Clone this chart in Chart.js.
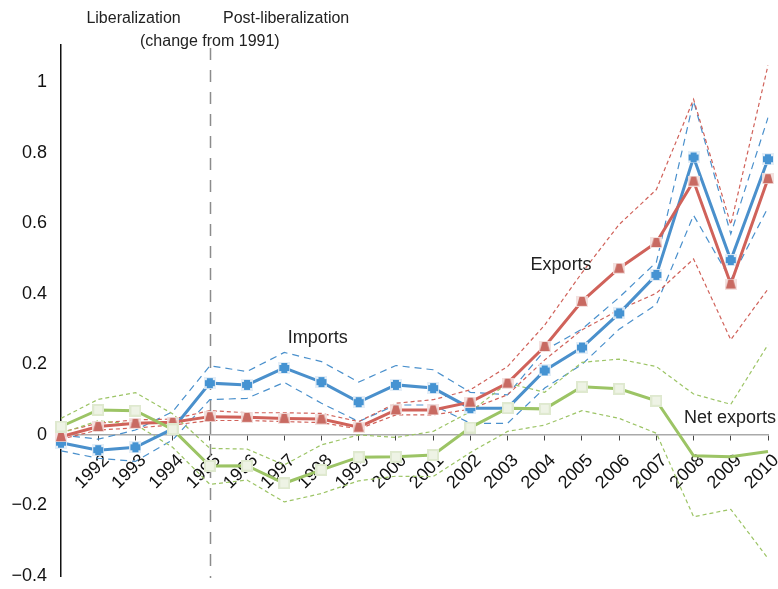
<!DOCTYPE html>
<html>
<head>
<meta charset="utf-8">
<script src="https://cdn.jsdelivr.net/npm/chart.js@4.4.1/dist/chart.umd.min.js"></script>
<style>
  html, body { margin: 0; padding: 0; background: #fff; }
  #wrap { width: 778px; height: 589px; }
</style>
</head>
<body>
<div id="wrap"><canvas id="tradeChart" width="778" height="589"></canvas></div>
<script>
// categories
const years = ['1991', '1992', '1993', '1994', '1995', '1996', '1997', '1998', '1999', '2000',
               '2001', '2002', '2003', '2004', '2005', '2006', '2007', '2008', '2009', '2010'];

// imports (blue) + band
const imports      = [-0.022, -0.043, -0.035, 0.017, 0.147, 0.142, 0.190, 0.150, 0.093, 0.142,
                       0.133, 0.076, 0.076, 0.183, 0.248, 0.345, 0.454, 0.787, 0.496, 0.782];
const importsUpper = [0.000, -0.012, 0.014, 0.066, 0.196, 0.180, 0.234, 0.208, 0.150, 0.197,
                      0.185, 0.121, 0.114, 0.240, 0.300, 0.390, 0.490, 0.947, 0.570, 0.900];
const importsLower = [-0.045, -0.066, -0.075, -0.014, 0.100, 0.104, 0.149, 0.090, 0.038, 0.085,
                      0.085, 0.033, 0.033, 0.133, 0.200, 0.300, 0.370, 0.623, 0.440, 0.645];

// exports (red) + band
const exportsVals  = [-0.005, 0.024, 0.033, 0.036, 0.052, 0.050, 0.047, 0.045, 0.022, 0.071,
                      0.071, 0.093, 0.147, 0.251, 0.379, 0.473, 0.546, 0.720, 0.428, 0.727];
const exportsUpper = [0.008, 0.033, 0.043, 0.045, 0.069, 0.063, 0.063, 0.061, 0.038, 0.090,
                      0.100, 0.128, 0.194, 0.312, 0.460, 0.597, 0.696, 0.952, 0.597, 1.048];
const exportsLower = [-0.012, 0.014, 0.020, 0.028, 0.041, 0.041, 0.038, 0.035, 0.017, 0.057,
                      0.057, 0.073, 0.114, 0.213, 0.298, 0.355, 0.402, 0.499, 0.270, 0.414];

// net exports (green) + band
const netExports = [0.024, 0.071, 0.069, 0.016, -0.088, -0.087, -0.137, -0.099, -0.063, -0.062,
                    -0.057, 0.021, 0.076, 0.074, 0.137, 0.131, 0.097, -0.059, -0.062, -0.047];
const netUpper   = [0.047, 0.101, 0.120, 0.060, -0.038, -0.040, -0.085, -0.028, 0.000, -0.007,
                    0.010, 0.066, 0.147, 0.121, 0.206, 0.215, 0.194, 0.116, 0.087, 0.256];
const netLower   = [0.005, 0.040, 0.030, -0.035, -0.140, -0.128, -0.190, -0.166, -0.130, -0.117,
                    -0.118, -0.050, 0.010, 0.028, 0.069, 0.047, 0.005, -0.232, -0.211, -0.350];

// y tick labels
const yTicks = [-0.4, -0.2, 0, 0.2, 0.4, 0.6, 0.8, 1];

const FONT = "'Liberation Sans', Arial, Helvetica, sans-serif";
const BLUE = '#4a90cc';
const RED = '#d0625a';
const GREEN = '#9cc465';

// little marker images
function marker(w, h, draw) {
    const c = document.createElement('canvas');
    c.width = w; c.height = h;
    draw(c.getContext('2d'));
    return c;
}
const bluePlus = marker(12, 12, function(g) {
    g.fillStyle = 'rgba(225,236,246,0.9)';
    g.fillRect(0, 0, 12, 12);
    g.fillStyle = '#4593d2';
    g.fillRect(3, 1, 6, 10);
    g.fillRect(1, 3, 10, 6);
});
const redTrap = marker(12, 11, function(g) {
    g.fillStyle = 'rgba(242,222,220,0.9)';
    g.fillRect(0, 0, 12, 11);
    g.fillStyle = '#c86a62';
    g.beginPath();
    g.moveTo(3.5, 1); g.lineTo(8.5, 1); g.lineTo(11, 10); g.lineTo(1, 10);
    g.closePath(); g.fill();
});
const greenSq = marker(12, 12, function(g) {
    g.fillStyle = '#dfe9cf';
    g.fillRect(0, 0, 12, 12);
    g.fillStyle = '#eef3e5';
    g.fillRect(2, 2, 8, 8);
});

function band(data, color, dash, order) {
    return {
        data: data,
        borderColor: color,
        borderWidth: 1.2,
        borderDash: dash,
        pointRadius: 0,
        fill: false,
        tension: 0,
        order: order
    };
}

// texts + 1995 divider
const annotations = {
    id: 'annotations',
    beforeDatasetsDraw(chart) {
        const {ctx, chartArea, scales: {x}} = chart;
        const px = Math.round(x.getPixelForValue(4)) + 0.5;
        ctx.save();
        ctx.strokeStyle = '#8c8c8c';
        ctx.lineWidth = 1.5;
        ctx.setLineDash([12, 10]);
        ctx.beginPath();
        ctx.moveTo(px, chartArea.top + 3);
        ctx.lineTo(px, chartArea.bottom + 2);
        ctx.stroke();
        ctx.restore();
    },
    afterDraw(chart) {
        const {ctx, chartArea, scales: {x, y}} = chart;
        ctx.save();
        ctx.fillStyle = '#222';
        ctx.textAlign = 'center';
        ctx.textBaseline = 'middle';
        ctx.font = '18px ' + FONT;
        ctx.fillText('Imports', x.getPixelForValue(6.9), y.getPixelForValue(0.276));
        ctx.fillText('Exports', x.getPixelForValue(13.44), y.getPixelForValue(0.483));
        ctx.fillText('Net exports', x.getPixelForValue(17.98), y.getPixelForValue(0.048));
        ctx.font = '16px ' + FONT;
        ctx.fillText('Liberalization', x.getPixelForValue(1.95), chartArea.top - 26);
        ctx.fillText('Post-liberalization', x.getPixelForValue(6.05), chartArea.top - 26);
        ctx.fillText('(change from 1991)', x.getPixelForValue(4), chartArea.top - 3);
        ctx.restore();
    }
};

const ctx = document.getElementById('tradeChart').getContext('2d');
new Chart(ctx, {
    type: 'line',
    data: {
        labels: years,
        datasets: [
            band(importsUpper, BLUE, [7, 5], 5),
            band(importsLower, BLUE, [7, 5], 5),
            band(exportsUpper, RED, [4, 3], 4),
            band(exportsLower, RED, [4, 3], 4),
            band(netUpper, GREEN, [4, 3], 3),
            band(netLower, GREEN, [4, 3], 3),
            {
                data: imports,
                borderColor: BLUE,
                borderWidth: 3,
                pointStyle: bluePlus,
                pointRadius: 6,
                fill: false,
                order: 2
            },
            {
                data: exportsVals,
                borderColor: RED,
                borderWidth: 3,
                pointStyle: redTrap,
                pointRadius: 6,
                fill: false,
                order: 1
            },
            {
                data: netExports,
                borderColor: GREEN,
                borderWidth: 3,
                pointStyle: greenSq,
                pointRadius: function(c) { return c.dataIndex >= 17 ? 0 : 6; },
                fill: false,
                order: 0
            }
        ]
    },
    options: {
        responsive: false,
        animation: false,
        layout: { padding: { top: 45, right: 10, bottom: 13, left: 0 } },
        plugins: {
            legend: { display: false },
            tooltip: { enabled: false }
        },
        scales: {
            x: {
                type: 'category',
                offset: false,
                position: { y: 0 },
                grid: { drawOnChartArea: false, drawTicks: true, tickLength: 5, color: '#444', lineWidth: 1 },
                border: { color: '#aaaaaa', width: 1.5 },
                ticks: {
                    autoSkip: false,
                    minRotation: 45,
                    maxRotation: 45,
                    padding: 10,
                    labelOffset: 8,
                    color: '#111',
                    font: { family: FONT, size: 18 },
                    callback: function(v, i) { return i === 0 ? '' : years[i]; }
                },
                afterFit: function(s) { s.paddingLeft = 0; s.paddingRight = 0; s.paddingTop = 0; s.paddingBottom = 0; }
            },
            y: {
                min: -0.4,
                max: 1.106,
                grid: { display: false, drawTicks: false },
                border: { color: '#111', width: 1.5 },
                afterBuildTicks: function(s) { s.ticks = yTicks.map(function(v) { return { value: v }; }); },
                afterFit: function(s) { s.width = 61; s.paddingTop = 0; s.paddingBottom = 0; },
                ticks: {
                    padding: 14,
                    color: '#111',
                    font: { family: FONT, size: 18 },
                    callback: function(v) {
                        const r = Math.round(v * 10) / 10;
                        return r < 0 ? '\u2212' + Math.abs(r) : String(r);
                    }
                }
            }
        }
    },
    plugins: [annotations]
});
</script>
</body>
</html>
